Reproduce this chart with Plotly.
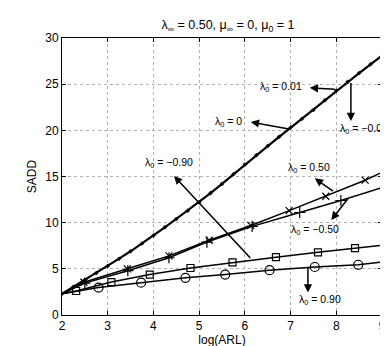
import plotly.graph_objects as go

# Top curve (lambda0 = 0, 0.01, -0.01 overlap)
x_top = [2, 2.25, 2.5, 2.75, 3, 3.25, 3.5, 3.75, 4, 4.25, 4.5, 4.75, 5, 5.25, 5.5, 5.75,
         6, 6.25, 6.5, 6.75, 7, 7.25, 7.5, 7.75, 8, 8.25, 8.5, 8.75, 9]
y_top = [2.3, 3.05, 3.8, 4.55, 5.3, 6.1, 6.9, 7.75, 8.6, 9.5, 10.4, 11.3, 12.2, 13.2, 14.2, 15.25,
         16.3, 17.3, 18.3, 19.3, 20.3, 21.25, 22.2, 23.25, 24.3, 25.25, 26.2, 27.15, 28.1]

# lambda0 = 0.50 (x markers)
x_p50 = [2, 2.48, 3.43, 4.34, 5.22, 6.13, 6.97, 7.77, 8.63, 9]
y_p50 = [2.3, 3.55, 5.0, 6.4, 8.1, 9.7, 11.3, 12.86, 14.6, 15.45]

# lambda0 = -0.50 (+ markers)
x_m50 = [2, 2.5, 3.44, 4.34, 5.17, 6.16, 7.2, 8.1, 9]
y_m50 = [2.3, 3.45, 4.8, 6.2, 7.9, 9.6, 11.1, 12.4, 13.8]

# lambda0 = -0.90 (squares)
x_m90 = [2, 2.31, 3.08, 3.92, 4.81, 5.73, 6.68, 7.6, 8.41, 9]
y_m90 = [2.3, 2.6, 3.57, 4.38, 5.09, 5.69, 6.26, 6.79, 7.25, 7.56]

# lambda0 = 0.90 (circles)
x_p90 = [2, 2.8, 3.73, 4.7, 5.57, 6.54, 7.53, 8.48, 9]
y_p90 = [2.3, 2.97, 3.5, 4.03, 4.38, 4.85, 5.2, 5.44, 5.73]

x_ticks = [2, 3, 4, 5, 6, 7, 8, 9]
y_ticks = [0, 5, 10, 15, 20, 25, 30]

FONT = "Liberation Sans, Arial, Helvetica"
fig = go.Figure()
K = "black"

def add_series(xs, ys, symbol, size, mwidth):
    fig.add_trace(go.Scatter(x=xs, y=ys, mode="lines", line=dict(color=K, width=1.5),
                             showlegend=False, hoverinfo="skip"))
    fig.add_trace(go.Scatter(x=xs[1:-1], y=ys[1:-1], mode="markers",
                             marker=dict(symbol=symbol, size=size, color=K,
                                         line=dict(color=K, width=mwidth)),
                             showlegend=False, hoverinfo="skip"))

fig.add_trace(go.Scatter(x=x_top, y=y_top, mode="lines+markers",
                         line=dict(color=K, width=2.2),
                         marker=dict(symbol="diamond", size=3.5, color=K),
                         showlegend=False, hoverinfo="skip"))
add_series(x_p50, y_p50, "x-thin-open", 7, 1.2)
add_series(x_m50, y_m50, "cross-thin-open", 8, 1.2)
add_series(x_m90, y_m90, "square-open", 7, 1.2)
add_series(x_p90, y_p90, "circle-open", 9, 1.2)

# arrows: (head x, head y, tail x, tail y)
arrows = [
    (7.42, 24.6, 8.0, 24.45),
    (8.32, 21.0, 8.32, 25.3),
    (6.13, 20.9, 7.03, 20.1),
    (4.45, 15.06, 6.15, 6.0),
    (7.53, 14.8, 7.96, 13.3),
    (7.89, 10.3, 8.28, 12.75),
    (7.38, 2.44, 7.38, 5.27),
]
for hx, hy, tx, ty in arrows:
    fig.add_annotation(x=hx, y=hy, ax=tx, ay=ty, xref="x", yref="y", axref="x", ayref="y",
                       text="", showarrow=True, arrowhead=2, arrowsize=1.1,
                       arrowwidth=1.5, arrowcolor=K, standoff=0, startstandoff=0)

labels = [
    (6.80, 24.7, "λ<sub>0</sub> = 0.01", "center"),
    (5.65, 20.9, "λ<sub>0</sub> = 0", "center"),
    (8.03, 20.1, "λ<sub>0</sub> = −0.01", "left"),
    (4.34, 16.5, "λ<sub>0</sub> = −0.90", "center"),
    (7.40, 15.9, "λ<sub>0</sub> = 0.50", "center"),
    (7.53, 9.2, "λ<sub>0</sub> = −0.50", "center"),
    (7.64, 1.6, "λ<sub>0</sub> = 0.90", "center"),
]
for lx, ly, t, anc in labels:
    fig.add_annotation(x=lx, y=ly, xref="x", yref="y", text=t, showarrow=False,
                       xanchor=anc, yanchor="middle",
                       font=dict(family=FONT, size=10.5, color=K))

axis_common = dict(showline=True, linecolor=K, linewidth=1, mirror="ticks",
                   ticks="inside", ticklen=4, tickcolor=K, showgrid=True,
                   gridcolor="#b0b0b0", griddash="dot", gridwidth=1, zeroline=False,
                   tickfont=dict(family=FONT, size=12, color=K))

fig.update_layout(
    width=388, height=346,
    margin=dict(l=54, r=10, t=30, b=33),
    paper_bgcolor="white", plot_bgcolor="white",
    title=dict(text="λ<sub>∞</sub> = 0.50, μ<sub>∞</sub> = 0, μ<sub>0</sub> = 1",
               x=220 / 388, xanchor="center", y=1 - 17 / 346, yanchor="middle",
               font=dict(family=FONT, size=12.5, color=K)),
    xaxis=dict(range=[2, 9], tickvals=x_ticks,
               title=dict(text="log(ARL)", standoff=2,
                          font=dict(family=FONT, size=12, color=K)),
               **axis_common),
    yaxis=dict(range=[0, 30], tickvals=y_ticks,
               title=dict(text="SADD", standoff=6,
                          font=dict(family=FONT, size=12, color=K)),
               **axis_common),
)

fig.write_html("out.html")
